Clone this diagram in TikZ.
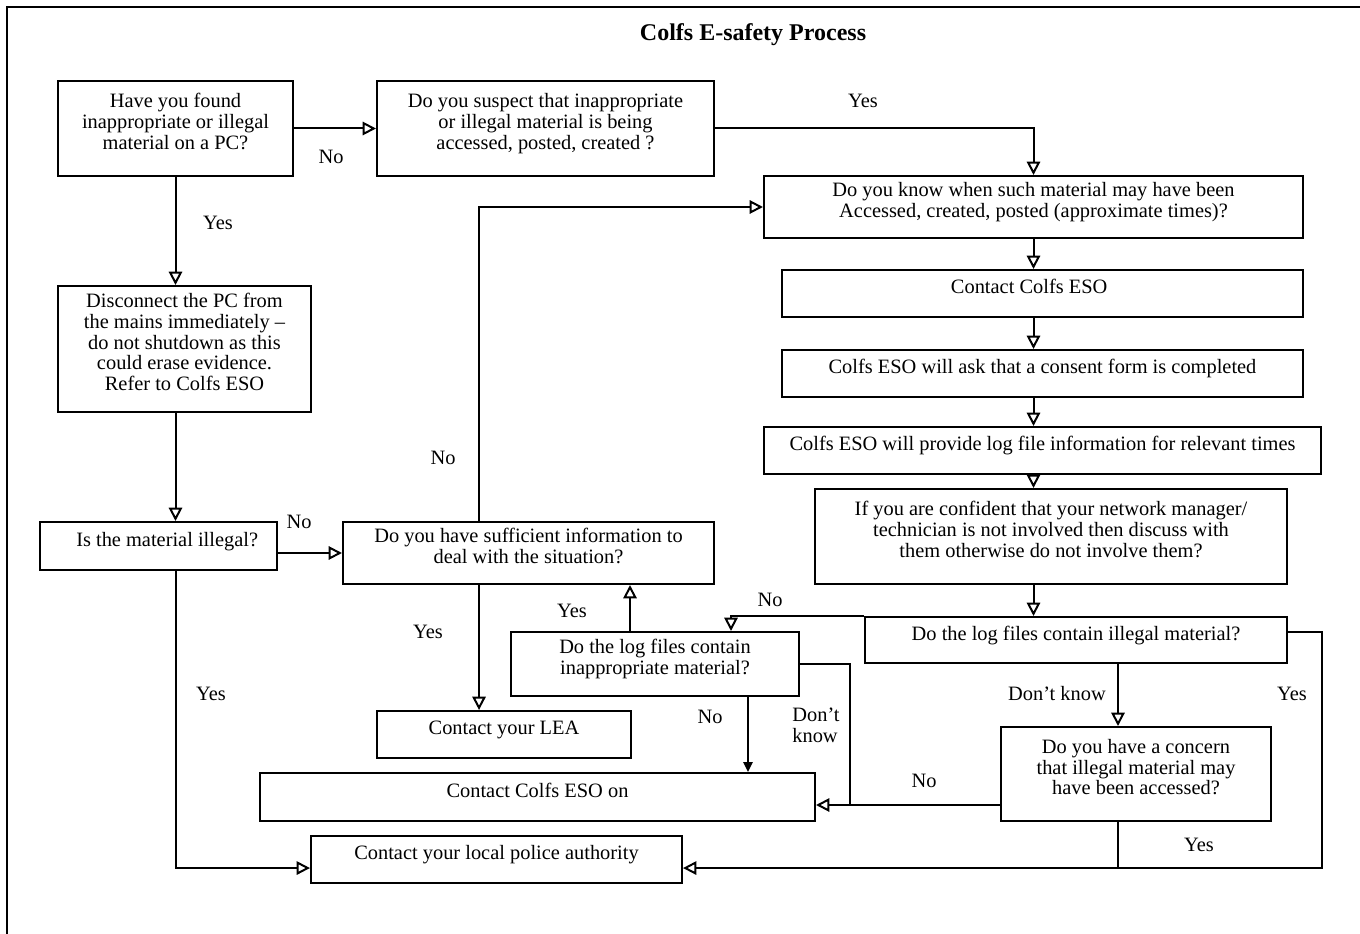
\documentclass[tikz,border=0pt]{standalone}
\usepackage{fontspec}
\setmainfont{Liberation Serif}
\usetikzlibrary{arrows.meta}

\tikzset{every picture/.style={line width=0.75pt}}

\begin{document}
\begin{tikzpicture}[x=0.75pt,y=0.75pt,yscale=-1,xscale=1,
  font=\fontsize{15.3}{15.6}\selectfont,
  box/.style 2 args={draw, line width=1.5pt, inner sep=0pt, align=center,
    minimum width=#1*0.75pt, minimum height=#2*0.75pt,
    execute at end node={\rule[-10.5pt]{0pt}{10.5pt}}},
  flow/.style={line width=1.5pt, -{Triangle[open, length=10pt, width=10pt]}},
  solidflow/.style={line width=1.5pt, -{Triangle[length=7.5pt, width=7pt]}},
  joint/.style={line width=1.5pt},
  lbl/.style={inner sep=0pt}]
%set diagram left start at 0, and has height of 934
\useasboundingbox (0,0) rectangle (1360,934);

%Page frame
\draw [line width=2.2pt] (7,934) -- (7,7) -- (1360,7) ;

% Title
\node (title) at (753,35) {\fontsize{18}{20}\selectfont\bfseries Colfs E-safety Process};

%Shape: Rectangle -- left column
\node [box={235}{95}] (found) at (175.5,128.5) {Have you found\\inappropriate or illegal\\material on a PC?};
\node [box={253}{126}] (disconnect) at (184.5,349) {Disconnect the PC from\\the mains immediately --\\do not shutdown as this\\could erase evidence.\\Refer to Colfs ESO};
\node [box={237}{48}] (illegal) at (158.5,546) {\hspace{13pt}Is the material illegal?};

%Shape: Rectangle -- middle
\node [box={337}{95}] (suspect) at (545.5,128.5) {Do you suspect that inappropriate\\or illegal material is being\\accessed, posted, created ?};
\node [box={371}{62}] (suffinfo) at (528.5,553) {Do you have sufficient information to\hspace{24pt}\\deal with the situation?\hspace{24pt}};
\node [box={288}{64}] (inappr) at (655,664) {Do the log files contain\\inappropriate material?};
\node [box={254}{47}] (lea) at (504,734.5) {Contact your LEA};
\node [box={555}{48}] (esoon) at (537.5,797) {Contact Colfs ESO on};
\node [box={371}{47}] (police) at (496.5,859.5) {Contact your local police authority};

%Shape: Rectangle -- right column
\node [box={539}{62}] (when) at (1033.5,207) {Do you know when such material may have been\\Accessed, created, posted (approximate times)?};
\node [box={521}{47}] (contact) at (1042.5,293.5) {Contact Colfs ESO\hspace{20pt}};
\node [box={521}{47}] (consent) at (1042.5,373.5) {Colfs ESO will ask that a consent form is completed};
\node [box={557}{47}] (logfile) at (1042.5,450.5) {Colfs ESO will provide log file information for relevant times};
\node [box={472}{95}] (confident) at (1051,536.5) {If you are confident that your network manager/\\technician is not involved then discuss with\\them otherwise do not involve them?};
\node [box={422}{46}] (logillegal) at (1076,640) {Do the log files contain illegal material?};
\node [box={270}{94}] (concern) at (1136,774) {Do you have a concern\\that illegal material may\\have been accessed?};

%Helper points on box sides
\coordinate (policeL) at ([yshift=6.4pt]police.west);
\coordinate (policeR) at ([yshift=6.4pt]police.east);
\coordinate (esoR) at ([yshift=6pt]esoon.east);
\coordinate (leftrun) at (found.south);
\coordinate (midrun) at ([xshift=-37.1pt]suffinfo.north);
\coordinate (rightrun) at (when.south);
\coordinate (dkrun) at ([xshift=-13.5pt]concern.north);

%Straight Lines
\draw [flow] (found.east) -- (suspect.west) ;
\draw [flow] (suspect.east) -| (when.north) ;
\draw [flow] (found.south) -- (leftrun |- disconnect.north) ;
\draw [flow] (leftrun |- disconnect.south) -- (leftrun |- illegal.north) ;
\draw [flow] (illegal.east |- suffinfo.west) -- (suffinfo.west) ;
\draw [flow] (leftrun |- illegal.south) |- (policeL) ;
\draw [flow] (midrun) |- (when.west) ;
\draw [flow] (midrun |- suffinfo.south) -- (midrun |- lea.north) ;
\draw [flow] (when.south) -- (rightrun |- contact.north) ;
\draw [flow] (rightrun |- contact.south) -- (rightrun |- consent.north) ;
\draw [flow] (rightrun |- consent.south) -- (rightrun |- logfile.north) ;
\draw [flow] (rightrun |- logfile.south) -- (rightrun |- confident.north) ;
\draw [flow] (rightrun |- confident.south) -- (rightrun |- logillegal.north) ;
\draw [flow] (logillegal.north west) -| ([xshift=57pt]inappr.north) ;
\draw [flow] (dkrun |- logillegal.south) -- (dkrun) ;
\draw [flow] ([yshift=-6pt]logillegal.east) -- ++(34,0) |- (policeR) ;
\draw [joint] (dkrun |- concern.south) -- (dkrun |- policeR) ;
\draw [flow] (concern.west |- esoR) -- (esoR) ;
\draw [joint] (inappr.east) -- ++(50,0) coordinate (dkturn) -- (dkturn |- esoR) ;
\draw [solidflow] ([xshift=69.75pt]inappr.south) -- ([xshift=69.75pt]inappr.south |- esoon.north) ;
\draw [flow] ([xshift=-18.75pt]inappr.north) -- ([xshift=-18.75pt]inappr.north |- suffinfo.south) ;

% Text Node
\node [lbl] (noA) at (331,157) {No};
\node [lbl] (yesB) at (863,101) {Yes};
\node [lbl] (yesA) at (218,223) {Yes};
\node [lbl] (noM) at (299,522) {No};
\node [lbl] (yesM) at (211,694) {Yes};
\node [lbl] (noK) at (443,458) {No};
\node [lbl] (yesK) at (428,632) {Yes};
\node [lbl] (yesJ) at (572,611) {Yes};
\node [lbl] (noH) at (770,600) {No};
\node [lbl] (dkH) at (1057,694) {Don't know};
\node [lbl] (yesH) at (1292,694) {Yes};
\node [lbl] (yesI) at (1199,845) {Yes};
\node [lbl] (noI) at (924,781) {No};
\node [lbl, align=left] (dkJ) at (816,725) {Don't\\know};
\node [lbl] (noJ) at (710,717) {No};

\end{tikzpicture}
\end{document}
